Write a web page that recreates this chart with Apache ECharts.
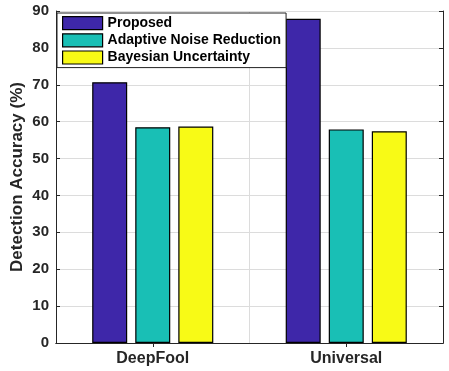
<!DOCTYPE html>
<html><head><meta charset="utf-8">
<script src="https://cdn.jsdelivr.net/npm/echarts@6/dist/echarts.min.js"></script>
<style>html,body{margin:0;padding:0;background:#fff}#c{width:449px;height:371px}</style>
</head><body><div id="c"></div>
<script>
var categories = ['DeepFool', 'Universal'];
var proposed = [70.7, 87.9];
var adaptive = [58.5, 57.9];
var bayesian = [58.7, 57.4];
var seriesNames = ['Proposed', 'Adaptive Noise Reduction', 'Bayesian Uncertainty'];
var colors = ['#3E27A9', '#19BFB5', '#F8FA16'];

var chart = echarts.init(document.getElementById('c'));
var font = 'Arial, "Liberation Sans", sans-serif';
function bar(name, data, color) {
  return {
    name: name, type: 'bar', data: data, barWidth: 35, barGap: '23%',
    itemStyle: { color: color, borderColor: '#000', borderWidth: 1.2 }
  };
}
chart.setOption({
  animation: false,
  textStyle: { fontFamily: font },
  grid: { left: 56, right: 6, top: 11, bottom: 28, containLabel: false, show: false },
  legend: {
    orient: 'vertical', left: 57, top: 13, itemWidth: 40, itemHeight: 13, itemGap: 3,
    icon: 'rect',
    padding: [3, 5, 3, 5], borderColor: '#222', borderWidth: 1, backgroundColor: '#fff',
    textStyle: { fontFamily: font, fontWeight: 'bold', fontSize: 14, color: '#000' },
    itemStyle: { borderColor: '#000', borderWidth: 1.2 },
    data: seriesNames
  },
  xAxis: [{
    type: 'category', data: categories,
    axisLine: { lineStyle: { color: '#262626', width: 1 } },
    axisTick: { show: true, inside: true, alignWithLabel: true, length: 4, lineStyle: { color: '#262626' } },
    axisLabel: { fontFamily: font, fontWeight: 'bold', fontSize: 16, color: '#262626', margin: 8 },
    splitLine: { show: true, lineStyle: { color: '#dcdcdc' } }
  }, {
    type: 'category', data: categories, position: 'top',
    axisLine: { show: true, lineStyle: { color: '#262626', width: 1 } },
    axisTick: { show: true, inside: true, alignWithLabel: true, length: 4, lineStyle: { color: '#262626' } },
    axisLabel: { show: false }, splitLine: { show: false }
  }],
  yAxis: [{
    type: 'value', min: 0, max: 90, interval: 10,
    name: 'Detection Accuracy (%)', nameLocation: 'middle', nameGap: 30, nameMoveOverlap: false,
    nameTextStyle: { fontFamily: font, fontWeight: 'bold', fontSize: 17, color: '#262626' },
    axisLine: { show: true, lineStyle: { color: '#262626', width: 1 } },
    axisTick: { show: true, inside: true, length: 4, lineStyle: { color: '#262626' } },
    axisLabel: { fontFamily: font, fontWeight: 'bold', fontSize: 15, color: '#262626', margin: 7 },
    splitLine: { show: true, lineStyle: { color: '#dcdcdc' } }
  }, {
    type: 'value', min: 0, max: 90, interval: 10, position: 'right',
    axisLine: { show: true, lineStyle: { color: '#262626', width: 1 } },
    axisTick: { show: true, inside: true, length: 4, lineStyle: { color: '#262626' } },
    axisLabel: { show: false }, splitLine: { show: false }
  }],
  series: [
    bar(seriesNames[0], proposed, colors[0]),
    bar(seriesNames[1], adaptive, colors[1]),
    bar(seriesNames[2], bayesian, colors[2])
  ]
});
</script></body></html>
